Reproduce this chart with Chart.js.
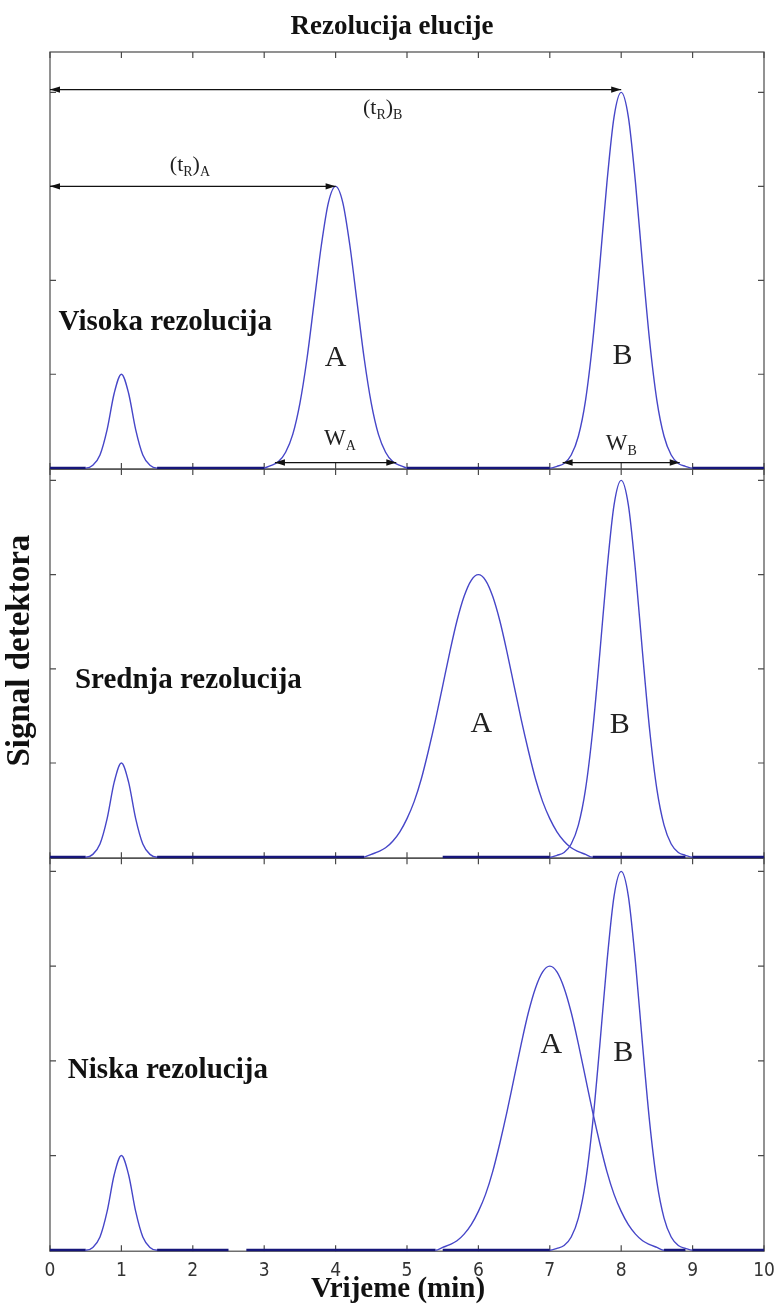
<!DOCTYPE html>
<html>
<head>
<meta charset="utf-8">
<script src="https://cdn.jsdelivr.net/npm/chart.js@4.4.1/dist/chart.umd.min.js"></script>
<style>
html,body{margin:0;padding:0;background:#fff;}
#wrap{position:relative;width:774px;height:1304px;}
</style>
</head>
<body>
<div id="wrap"><canvas id="c" width="774" height="1304"></canvas></div>
<script>
// ---------------- DATA ----------------
const xTickValues = [0, 1, 2, 3, 4, 5, 6, 7, 8, 9, 10];
const yTickValues = [1, 2, 3, 4];

// Top panel: Visoka rezolucija
const timeSmallTop   = [0, 0.5, 0.6, 0.7, 0.8, 0.9, 1.0, 1.1, 1.2, 1.3, 1.4, 1.5, 3.0];
const signalSmallTop = [0, 0, 0.03, 0.14, 0.41, 0.80, 1.00, 0.80, 0.41, 0.14, 0.03, 0, 0];
const timeATop   = [3.0, 3.1, 3.2, 3.3, 3.4, 3.5, 3.6, 3.7, 3.8, 3.9, 4.0, 4.1, 4.2, 4.3, 4.4, 4.5, 4.6, 4.7, 4.8, 4.9, 5.0];
const signalATop = [0, 0.03, 0.07, 0.17, 0.36, 0.69, 1.17, 1.77, 2.37, 2.83, 3.00, 2.83, 2.37, 1.77, 1.17, 0.69, 0.36, 0.17, 0.07, 0.03, 0];
const timeBTop   = [5.0, 7.0, 7.1, 7.2, 7.3, 7.4, 7.5, 7.6, 7.7, 7.8, 7.9, 8.0, 8.1, 8.2, 8.3, 8.4, 8.5, 8.6, 8.7, 8.8, 8.9, 9.0, 10.0];
const signalBTop = [0, 0, 0.02, 0.05, 0.14, 0.34, 0.72, 1.34, 2.16, 3.04, 3.74, 4.00, 3.74, 3.04, 2.16, 1.34, 0.72, 0.34, 0.14, 0.05, 0.02, 0, 0];

// Middle panel: Srednja rezolucija
const timeSmallMid   = [0, 0.5, 0.6, 0.7, 0.8, 0.9, 1.0, 1.1, 1.2, 1.3, 1.4, 1.5, 4.4];
const signalSmallMid = [0, 0, 0.03, 0.14, 0.41, 0.80, 1.00, 0.80, 0.41, 0.14, 0.03, 0, 0];
const timeAMid   = [4.4, 4.5, 4.6, 4.7, 4.8, 4.9, 5.0, 5.1, 5.2, 5.3, 5.4, 5.5, 5.6, 5.7, 5.8, 5.9, 6.0, 6.1, 6.2, 6.3, 6.4, 6.5, 6.6, 6.7, 6.8, 6.9, 7.0, 7.1, 7.2, 7.3, 7.4, 7.5, 7.6, 8.9];
const signalAMid = [0, 0.03, 0.06, 0.10, 0.17, 0.27, 0.41, 0.59, 0.83, 1.13, 1.46, 1.82, 2.18, 2.51, 2.77, 2.94, 3.00, 2.94, 2.77, 2.51, 2.18, 1.82, 1.46, 1.13, 0.83, 0.59, 0.41, 0.27, 0.17, 0.10, 0.06, 0.03, 0, 0];
const timeBMid   = [5.5, 7.0, 7.1, 7.2, 7.3, 7.4, 7.5, 7.6, 7.7, 7.8, 7.9, 8.0, 8.1, 8.2, 8.3, 8.4, 8.5, 8.6, 8.7, 8.8, 8.9, 9.0, 10.0];
const signalBMid = [0, 0, 0.02, 0.05, 0.14, 0.34, 0.72, 1.34, 2.16, 3.04, 3.74, 4.00, 3.74, 3.04, 2.16, 1.34, 0.72, 0.34, 0.14, 0.05, 0.02, 0, 0];

// Bottom panel: Niska rezolucija
const timeSmallBot   = [0, 0.5, 0.6, 0.7, 0.8, 0.9, 1.0, 1.1, 1.2, 1.3, 1.4, 1.5, 2.5];
const signalSmallBot = [0, 0, 0.03, 0.14, 0.41, 0.80, 1.00, 0.80, 0.41, 0.14, 0.03, 0, 0];
const timeABot   = [2.75, 5.4, 5.5, 5.6, 5.7, 5.8, 5.9, 6.0, 6.1, 6.2, 6.3, 6.4, 6.5, 6.6, 6.7, 6.8, 6.9, 7.0, 7.1, 7.2, 7.3, 7.4, 7.5, 7.6, 7.7, 7.8, 7.9, 8.0, 8.1, 8.2, 8.3, 8.4, 8.5, 8.6, 8.9];
const signalABot = [0, 0, 0.03, 0.06, 0.10, 0.17, 0.27, 0.41, 0.59, 0.83, 1.13, 1.46, 1.82, 2.18, 2.51, 2.77, 2.94, 3.00, 2.94, 2.77, 2.51, 2.18, 1.82, 1.46, 1.13, 0.83, 0.59, 0.41, 0.27, 0.17, 0.10, 0.06, 0.03, 0, 0];
const timeBBot   = [5.5, 7.0, 7.1, 7.2, 7.3, 7.4, 7.5, 7.6, 7.7, 7.8, 7.9, 8.0, 8.1, 8.2, 8.3, 8.4, 8.5, 8.6, 8.7, 8.8, 8.9, 9.0, 10.0];
const signalBBot = [0, 0, 0.02, 0.05, 0.14, 0.34, 0.72, 1.34, 2.16, 3.04, 3.74, 4.00, 3.74, 3.04, 2.16, 1.34, 0.72, 0.34, 0.14, 0.05, 0.02, 0, 0];

const panelNames = ['Visoka rezolucija', 'Srednja rezolucija', 'Niska rezolucija'];
const chartTitle = 'Rezolucija elucije';
const xTitle = 'Vrijeme (min)';
const yTitle = 'Signal detektora';

// ---------------- STYLE ----------------
const BLUE = '#4646c8';
const NAVY = '#16167a';
const FRAME = '#4a4a4a';
const SERIF = "'Liberation Serif','Times New Roman',serif";

function pts(xs, ys) { return xs.map((x, i) => ({ x: x, y: ys[i] })); }
function ds(xs, ys, axis) {
  return {
    data: pts(xs, ys), yAxisID: axis,
    borderColor: BLUE, borderWidth: 1.4, pointRadius: 0, fill: false,
    cubicInterpolationMode: 'monotone',
    segment: {
      borderColor: c => (c.p0.parsed.y === 0 && c.p1.parsed.y === 0) ? NAVY : BLUE,
      borderWidth: c => (c.p0.parsed.y === 0 && c.p1.parsed.y === 0) ? 3 : 1.4
    }
  };
}

// annotation layout (positions in data units)
const arrows = [
  { axis: 'yTop', x0: 0, x1: 8, y: 4.03 },
  { axis: 'yTop', x0: 0, x1: 4, y: 3.0 },
  { axis: 'yTop', x0: 3.15, x1: 4.85, y: 0.06 },
  { axis: 'yTop', x0: 7.18, x1: 8.82, y: 0.06 }
];
const richLabels = [
  { axis: 'yTop', x: 4.66, y: 3.77, size: 22, parts: [['(t', 0], ['R', 1], [')', 0], ['B', 1]] },
  { axis: 'yTop', x: 1.96, y: 3.16, size: 22, parts: [['(t', 0], ['R', 1], [')', 0], ['A', 1]] },
  { axis: 'yTop', x: 4.06, y: 0.25, size: 23, parts: [['W', 0], ['A', 1]] },
  { axis: 'yTop', x: 8.0, y: 0.19, size: 23, parts: [['W', 0], ['B', 1]] }
];
const peakLabels = [
  { axis: 'yTop', x: 4.0, y: 1.09, t: 'A' },
  { axis: 'yTop', x: 8.02, y: 1.11, t: 'B' },
  { axis: 'yMid', x: 6.04, y: 1.33, t: 'A' },
  { axis: 'yMid', x: 7.98, y: 1.32, t: 'B' },
  { axis: 'yBot', x: 7.02, y: 2.08, t: 'A' },
  { axis: 'yBot', x: 8.03, y: 2.0, t: 'B' }
];
const panelLabels = [
  { axis: 'yTop', x: 0.12, y: 1.47 },
  { axis: 'yMid', x: 0.35, y: 1.8 },
  { axis: 'yBot', x: 0.25, y: 1.82 }
];

const framePlugin = {
  id: 'frame',
  beforeDatasetsDraw(chart) {
    const ctx = chart.ctx, xs = chart.scales.x, ca = chart.chartArea;
    ctx.save();
    ctx.strokeStyle = FRAME; ctx.lineWidth = 1.2;
    for (const id of ['yTop', 'yMid', 'yBot']) {
      const s = chart.scales[id];
      const top = s.top, bot = s.bottom;
      ctx.strokeRect(ca.left, top, ca.right - ca.left, bot - top);
      ctx.beginPath();
      for (const v of xTickValues) {
        const px = xs.getPixelForValue(v);
        ctx.moveTo(px, bot); ctx.lineTo(px, bot - 6);
        ctx.moveTo(px, top); ctx.lineTo(px, top + 6);
      }
      for (const v of yTickValues) {
        const py = s.getPixelForValue(v);
        ctx.moveTo(ca.left, py); ctx.lineTo(ca.left + 6, py);
        ctx.moveTo(ca.right, py); ctx.lineTo(ca.right - 6, py);
      }
      ctx.stroke();
    }
    ctx.restore();
  },
  afterDatasetsDraw(chart) {
    const ctx = chart.ctx, xs = chart.scales.x, ca = chart.chartArea;
    ctx.save();
    ctx.strokeStyle = '#111'; ctx.fillStyle = '#111'; ctx.lineWidth = 1.3;
    for (const a of arrows) {
      const s = chart.scales[a.axis];
      const x0 = xs.getPixelForValue(a.x0), x1 = xs.getPixelForValue(a.x1), y = s.getPixelForValue(a.y);
      ctx.beginPath(); ctx.moveTo(x0, y); ctx.lineTo(x1, y); ctx.stroke();
      head(ctx, x0, y, -1); head(ctx, x1, y, 1);
    }
    ctx.fillStyle = '#222';
    ctx.textBaseline = 'alphabetic';
    for (const l of richLabels) {
      const s = chart.scales[l.axis];
      const main = l.size + 'px ' + SERIF, sub = Math.round(l.size * 0.62) + 'px ' + SERIF;
      let w = 0;
      for (const p of l.parts) { ctx.font = p[1] ? sub : main; w += ctx.measureText(p[0]).width; }
      let cx = xs.getPixelForValue(l.x) - w / 2;
      const by = s.getPixelForValue(l.y);
      ctx.textAlign = 'left';
      for (const p of l.parts) {
        ctx.font = p[1] ? sub : main;
        ctx.fillText(p[0], cx, p[1] ? by + 5 : by);
        cx += ctx.measureText(p[0]).width;
      }
    }
    ctx.font = '30px ' + SERIF; ctx.textAlign = 'center';
    for (const l of peakLabels) {
      ctx.fillText(l.t, xs.getPixelForValue(l.x), chart.scales[l.axis].getPixelForValue(l.y));
    }
    ctx.font = 'bold 29px ' + SERIF; ctx.textAlign = 'left'; ctx.fillStyle = '#111';
    panelLabels.forEach((l, i) => {
      ctx.fillText(panelNames[i], xs.getPixelForValue(l.x), chart.scales[l.axis].getPixelForValue(l.y));
    });
    // titles
    ctx.textAlign = 'center';
    ctx.font = 'bold 27px ' + SERIF;
    ctx.fillText(chartTitle, 392, ca.top - 18);
    ctx.font = 'bold 29px ' + SERIF;
    ctx.fillText(xTitle, 398, ca.bottom + 46);
    ctx.save();
    ctx.translate(29, (ca.top + ca.bottom) / 2 - 1);
    ctx.rotate(-Math.PI / 2);
    ctx.font = 'bold 33px ' + SERIF;
    ctx.fillText(yTitle, 0, 0);
    ctx.restore();
    ctx.restore();
  }
};
function head(ctx, x, y, dir) {
  ctx.beginPath();
  ctx.moveTo(x, y); ctx.lineTo(x - dir * 10, y - 3.2); ctx.lineTo(x - dir * 10, y + 3.2);
  ctx.closePath(); ctx.fill();
}

new Chart(document.getElementById('c'), {
  type: 'line',
  data: {
    datasets: [
      ds(timeSmallTop, signalSmallTop, 'yTop'),
      ds(timeATop, signalATop, 'yTop'),
      ds(timeBTop, signalBTop, 'yTop'),
      ds(timeSmallMid, signalSmallMid, 'yMid'),
      ds(timeAMid, signalAMid, 'yMid'),
      ds(timeBMid, signalBMid, 'yMid'),
      ds(timeSmallBot, signalSmallBot, 'yBot'),
      ds(timeABot, signalABot, 'yBot'),
      ds(timeBBot, signalBBot, 'yBot')
    ]
  },
  options: {
    responsive: false,
    animation: false,
    events: [],
    layout: { padding: { left: 50, right: 10, top: 52, bottom: 14 } },
    plugins: { legend: { display: false }, tooltip: { enabled: false }, title: { display: false } },
    scales: {
      x: {
        type: 'linear', min: 0, max: 10, position: 'bottom',
        grid: { display: false, drawTicks: false }, border: { display: false },
        afterBuildTicks: s => { s.ticks = xTickValues.map(v => ({ value: v })); },
        afterFit: s => { s.paddingLeft = 0; s.paddingRight = 0; },
        ticks: {
          autoSkip: false, maxRotation: 0, padding: 8, color: '#333',
          font: { family: "'Liberation Sans Narrow','DejaVu Sans Condensed','Liberation Sans',sans-serif", size: 19 }
        }
      },
      yBot: { type: 'linear', display: false, position: 'left', stack: 'panels', stackWeight: 392, weight: 1, min: -0.01, max: 4.14 },
      yMid: { type: 'linear', display: false, position: 'left', stack: 'panels', stackWeight: 388, weight: 2, min: -0.01, max: 4.12 },
      yTop: { type: 'linear', display: false, position: 'left', stack: 'panels', stackWeight: 416, weight: 3, min: -0.01, max: 4.43 }
    }
  },
  plugins: [framePlugin]
});
</script>
</body>
</html>
